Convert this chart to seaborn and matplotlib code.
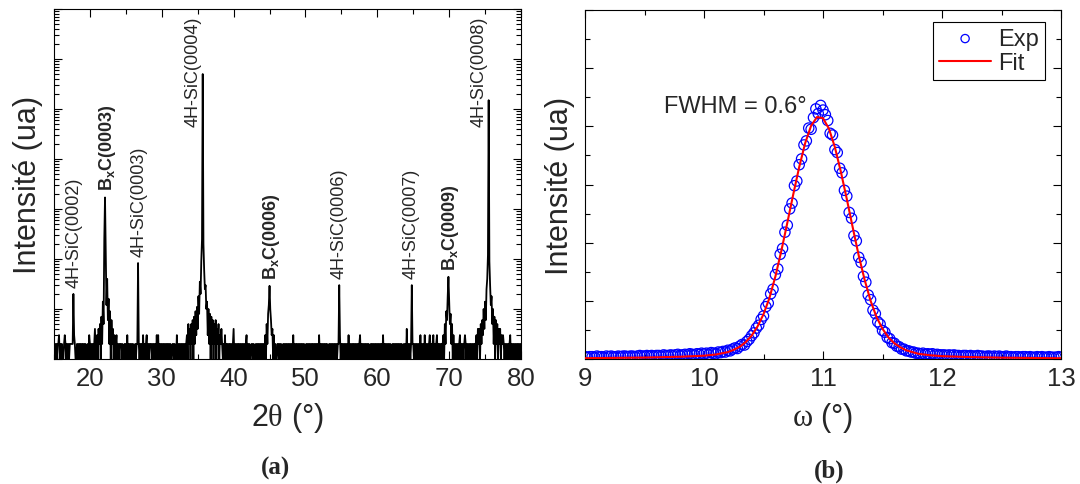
import matplotlib
matplotlib.use("Agg")
import matplotlib.pyplot as plt
import numpy as np
import pandas as pd
import seaborn as sns
from matplotlib.ticker import LogLocator, MultipleLocator, NullFormatter

# ---- (a) 2theta scan, counts every 0.1 deg from 15 to 80 ----
two_theta_start = 15.0
two_theta_step = 0.1
background_counts = (
    "12121223121211232121212222121211212122122121211213"
    "21212124121212212121212121212121212123121222121121"
    "21312121212112121221212131212312122212121213131212"
    "12121212212121122121131212121221212212131212121212"
    "21212121212121212121212121212121212121312121221212"
    "41212122121212121231212112212112121212122121212121"
    "21212121211221212112121212121212131212212121212121"
    "12121212122121221213121212121221121212121212122121"
    "21212121213121212212121212312121212121211221212121"
    "21212121312121212121121212122121212112121412121212"
    "21212121213121213121212312123121231212121212121212"
    "21212121212121231212123212121221212212121212121212"
    "21212121212121212121212121212121212312121212122121"
    "2"
)

# peaks: first angle and counts on the same 0.1 deg grid
sic0002_start = 17.6
sic0002_counts = [2, 20, 3]
bxc0003_start = 21.0
bxc0003_counts = [3, 1, 4, 2, 5, 1, 7, 2, 14, 5, 250, 1700, 160, 12, 40, 6,
                  16, 2, 9, 1, 6, 2, 4, 1, 3]
sic0003_start = 26.6
sic0003_counts = [2, 83, 2]
sic0004_start = 33.5
sic0004_counts = [3, 1, 5, 2, 4, 1, 5, 2, 6, 1, 7, 2, 9, 3, 11, 4, 18, 8, 35,
                  20, 90, 250, 500000, 200, 60, 25, 30, 10, 14, 3, 10, 2, 8, 1,
                  7, 2, 6, 1, 5, 2, 6, 1, 4, 2, 5, 1, 3, 2, 4]
bxc0006_start = 44.4
bxc0006_counts = [3, 1, 5, 2, 8, 12, 29, 10, 6, 3, 4, 1, 3]
sic0006_start = 54.6
sic0006_counts = [2, 30, 3]
sic0007_start = 64.7
sic0007_counts = [2, 30, 2]
bxc0009_start = 69.2
bxc0009_counts = [3, 1, 5, 2, 9, 6, 18, 44, 14, 5, 8, 2, 5, 1, 3]
sic0008_start = 73.8
sic0008_counts = [3, 1, 4, 2, 4, 1, 5, 2, 6, 3, 10, 4, 14, 6, 25, 40, 120,
                  150000, 90, 30, 12, 18, 5, 10, 2, 7, 1, 6, 2, 5, 1, 4, 2, 4,
                  1, 3, 2, 3]

peak_labels = ["4H-SiC(0002)", r"$\mathbf{B_xC(0003)}$", "4H-SiC(0003)",
               "4H-SiC(0004)", r"$\mathbf{B_xC(0006)}$", "4H-SiC(0006)",
               "4H-SiC(0007)", r"$\mathbf{B_xC(0009)}$", "4H-SiC(0008)"]

# ---- (b) rocking curve ----
omega_start = 9.0
omega_step = 0.02
exp_intensity = [
    0.04, 0.03, 0.04, 0.04, 0.03, 0.05, 0.04, 0.04, 0.03, 0.05, 0.04, 0.05, 0.04,
    0.04, 0.05, 0.04, 0.05, 0.05, 0.04, 0.05, 0.05, 0.04, 0.05, 0.06, 0.05,
    0.05, 0.06, 0.05, 0.06, 0.05, 0.06, 0.06, 0.05, 0.07, 0.06, 0.06, 0.07, 0.06,
    0.07, 0.08, 0.06, 0.07, 0.08, 0.07, 0.09, 0.08, 0.07, 0.09, 0.08, 0.10,
    0.09, 0.10, 0.08, 0.11, 0.10, 0.09, 0.12, 0.11, 0.13, 0.12,
    0.15, 0.14, 0.17, 0.19, 0.18, 0.22, 0.25, 0.24, 0.30, 0.34,
    0.40, 0.45, 0.53, 0.58, 0.68, 0.74, 0.90, 0.96, 1.12, 1.20,
    1.45, 1.55, 1.80, 1.90, 2.18, 2.30, 2.58, 2.68, 2.98, 3.06,
    3.34, 3.44, 3.68, 3.75, 3.97, 3.95, 4.15, 4.30, 4.22, 4.36,
    4.28, 4.20, 4.10, 3.88, 3.85, 3.60, 3.55, 3.28, 3.20, 2.90,
    2.80, 2.52, 2.42, 2.12, 2.03, 1.75, 1.66, 1.42, 1.32, 1.10,
    1.02, 0.84, 0.78, 0.64, 0.60, 0.49, 0.46, 0.37, 0.35, 0.28,
    0.27, 0.22, 0.21, 0.17, 0.17, 0.14, 0.14, 0.12, 0.12, 0.10,
    0.10, 0.09, 0.10, 0.08, 0.09, 0.08, 0.09, 0.07, 0.08, 0.07,
    0.07, 0.07, 0.06, 0.07, 0.06, 0.07, 0.06, 0.06, 0.05, 0.06, 0.06, 0.05, 0.06,
    0.05, 0.05, 0.06, 0.05, 0.05, 0.04, 0.05, 0.05, 0.04, 0.05, 0.04, 0.05,
    0.04, 0.04, 0.05, 0.04, 0.04, 0.03, 0.04, 0.04, 0.03, 0.04, 0.04, 0.03, 0.04,
    0.03, 0.03, 0.04, 0.03, 0.04, 0.03, 0.03, 0.04, 0.03, 0.03, 0.03, 0.04, 0.03,
]
fit_omega = [9.0, 9.5, 9.8, 10.0, 10.1, 10.2, 10.25, 10.3, 10.35, 10.4, 10.45,
             10.5, 10.55, 10.6, 10.65, 10.7, 10.75, 10.8, 10.85, 10.9, 10.95,
             11.0, 11.05, 11.1, 11.15, 11.2, 11.25, 11.3, 11.35, 11.4, 11.45,
             11.5, 11.55, 11.6, 11.65, 11.7, 11.8, 11.9, 12.0, 12.2, 12.5, 13.0]
fit_intensity = [0.014, 0.025, 0.039, 0.057, 0.077, 0.119, 0.158, 0.21, 0.29,
                 0.40, 0.56, 0.77, 1.05, 1.42, 1.86, 2.34, 2.83, 3.30, 3.71,
                 4.01, 4.16, 4.14, 3.96, 3.64, 3.22, 2.75, 2.26, 1.78, 1.36,
                 1.00, 0.72, 0.52, 0.37, 0.27, 0.20, 0.149, 0.090, 0.064,
                 0.049, 0.035, 0.023, 0.013]

# ---- build the tables ----
counts = np.array([int(c) for c in background_counts], dtype=float)
two_theta = np.round(two_theta_start + two_theta_step * np.arange(len(counts)), 1)
for start, pk in [(sic0002_start, sic0002_counts), (bxc0003_start, bxc0003_counts),
                  (sic0003_start, sic0003_counts), (sic0004_start, sic0004_counts),
                  (bxc0006_start, bxc0006_counts), (sic0006_start, sic0006_counts),
                  (sic0007_start, sic0007_counts), (bxc0009_start, bxc0009_counts),
                  (sic0008_start, sic0008_counts)]:
    i0 = int(round((start - two_theta_start) / two_theta_step))
    counts[i0:i0 + len(pk)] = pk
xrd = pd.DataFrame({"two_theta": two_theta, "counts": counts})

omega = np.round(omega_start + omega_step * np.arange(len(exp_intensity)), 2)
rc_exp = pd.DataFrame({"omega": omega, "intensity": exp_intensity})
rc_fit = pd.DataFrame({"omega": fit_omega, "intensity": fit_intensity})

# ---- style ----
sns.set_style("ticks")
plt.rcParams["font.family"] = ["Liberation Sans", "DejaVu Sans"]
plt.rcParams["mathtext.fontset"] = "custom"
plt.rcParams["mathtext.rm"] = "Liberation Serif"
plt.rcParams["mathtext.bf"] = "Liberation Sans:bold"
plt.rcParams["axes.linewidth"] = 0.8
plt.rcParams["axes.edgecolor"] = "black"

fig = plt.figure(figsize=(10.8, 4.85), dpi=100)
ax1 = fig.add_axes([54 / 1080, 125 / 485, 467 / 1080, 350 / 485])
ax2 = fig.add_axes([585 / 1080, 125 / 485, 476 / 1080, 349 / 485])

for ax in (ax1, ax2):
    ax.tick_params(which="both", direction="in", top=True, right=True,
                   labelsize=18.5, pad=5, color="black", width=0.8)
    ax.tick_params(which="major", length=6)
    ax.tick_params(which="minor", length=3.5)
    for sp in ax.spines.values():
        sp.set_visible(True)
        sp.set_color("black")

# (a)
sns.lineplot(data=xrd, x="two_theta", y="counts", ax=ax1, color="black",
             linewidth=1.3, estimator=None, sort=False)
ax1.set_yscale("log")
ax1.set_xlim(15, 80)
ax1.set_ylim(1, 1e7)
ax1.xaxis.set_major_locator(MultipleLocator(10))
ax1.xaxis.set_minor_locator(MultipleLocator(5))
ax1.yaxis.set_major_locator(LogLocator(base=10, numticks=20))
ax1.yaxis.set_minor_locator(LogLocator(base=10, subs=np.arange(2, 10), numticks=20))
ax1.yaxis.set_major_formatter(NullFormatter())
ax1.yaxis.set_minor_formatter(NullFormatter())
ax1.set_xlabel(r"2$\mathrm{\theta}$ (°)", fontsize=22, labelpad=7)
ax1.set_ylabel("Intensité (ua)", fontsize=22, labelpad=3)

label_anchor = [(17.85, 27), (22.4, 2400), (26.8, 115), (34.3, 4.5e4),
                (45.3, 40), (54.75, 42), (64.65, 42), (70.2, 60), (74.15, 4.5e4)]
for text, (lx, ly) in zip(peak_labels, label_anchor):
    ax1.text(lx, ly, text, rotation=90, ha="center", va="bottom", fontsize=13)

# (b)
sns.scatterplot(data=rc_exp, x="omega", y="intensity", ax=ax2, marker="o",
                s=55, facecolor="none", edgecolor="blue", linewidth=0.9,
                label="Exp", zorder=2)
sns.lineplot(data=rc_fit, x="omega", y="intensity", ax=ax2, color="red",
             linewidth=1.5, estimator=None, label="Fit", zorder=3)
ax2.set_xlim(9, 13)
ax2.set_ylim(0, 6)
ax2.xaxis.set_major_locator(MultipleLocator(1))
ax2.xaxis.set_minor_locator(MultipleLocator(0.5))
ax2.yaxis.set_major_locator(MultipleLocator(1))
ax2.yaxis.set_minor_locator(MultipleLocator(0.5))
ax2.yaxis.set_major_formatter(NullFormatter())
ax2.set_xlabel(r"$\mathrm{\omega}$ (°)", fontsize=22, labelpad=7)
ax2.set_ylabel("Intensité (ua)", fontsize=22, labelpad=2)
ax2.text(9.66, 4.25, "FWHM = 0.6°", fontsize=17, ha="left", va="baseline")

handles, labels = ax2.get_legend_handles_labels()
order = [labels.index("Exp"), labels.index("Fit")]
leg = ax2.legend([handles[i] for i in order], [labels[i] for i in order],
                 loc="upper right", bbox_to_anchor=(0.966, 0.966), fontsize=17,
                 frameon=True, fancybox=False, framealpha=1, edgecolor="black",
                 handlelength=2.2, handletextpad=0.3, labelspacing=0.1,
                 borderpad=0.25, borderaxespad=0, scatterpoints=1,
                 markerscale=0.8)
leg.get_frame().set_linewidth(0.8)

fig.text(276 / 1080, 1 - 468 / 485, "(a)", ha="center", va="center",
         fontsize=18, fontweight="bold", family="Liberation Serif")
fig.text(829 / 1080, 1 - 471 / 485, "(b)", ha="center", va="center",
         fontsize=18, fontweight="bold", family="Liberation Serif")

fig.savefig("out.png", dpi=100)
